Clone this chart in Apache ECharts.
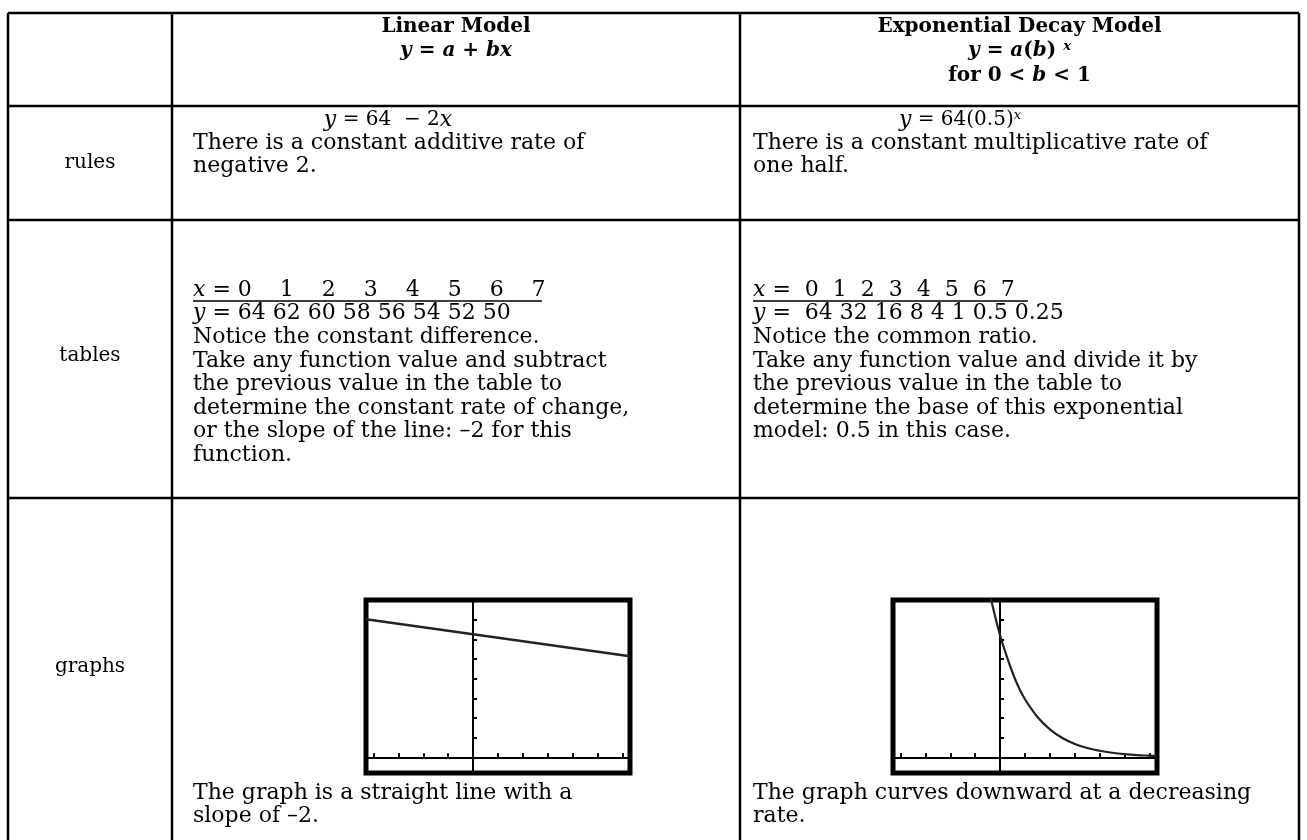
<!DOCTYPE html>
<html>
<head>
<meta charset="utf-8">
<script src="https://cdn.jsdelivr.net/npm/echarts@6/dist/echarts.min.js"></script>
<style>
html, body { margin: 0; padding: 0; background: #fff; }
#main { width: 1307px; height: 840px; }
</style>
</head>
<body>
<div id="main"></div>
<script>
// values in the tables (as printed)
var xValues = [0, 1, 2, 3, 4, 5, 6, 7];
var linearValues = [64, 62, 60, 58, 56, 54, 52, 50];
var expValues = [64, 32, 16, 8, 4, 1, 0.5, 0.25];

var linGraphX = [-4.3, 6.3];
var linGraphY = [70.2, 51.4];
var expGraphX = [-0.5, -0.3, 0, 0.25, 0.5, 0.75, 1, 1.5, 2, 2.5, 3, 3.5, 4, 4.5, 5, 5.5, 6, 6.3];
var expGraphY = [88, 77, 62, 52, 43, 35.5, 29.5, 20.5, 14.2, 9.8, 6.8, 4.7, 3.3, 2.3, 1.6, 1.1, 0.8, 0.6];

// tick marks on the screens
var xTicks = [-4, -3, -2, -1, 1, 2, 3, 4, 5, 6];
var yTicks = [10, 20, 30, 40, 50, 60, 70];

var chart = echarts.init(document.getElementById('main'));

var FONT = '"DejaVu Serif", "Liberation Serif", serif';
var SIZE = 22;
var rich = {
  i: { fontStyle: 'italic', fontFamily: FONT, fontSize: SIZE, fill: '#000' },
  bi: { fontStyle: 'italic', fontWeight: 'bold', fontFamily: FONT, fontSize: 20, fill: '#000' },
  b: { fontWeight: 'bold', fontFamily: FONT, fontSize: 20, fill: '#000' },
  sup: { fontStyle: 'italic', fontFamily: FONT, fontSize: 13, fill: '#000', verticalAlign: 'top' },
  bsup: { fontStyle: 'italic', fontWeight: 'bold', fontFamily: FONT, fontSize: 13, fill: '#000', verticalAlign: 'top' }
};

function txt(x, y, s, align, size) {
  return {
    type: 'text', x: x, y: y, z: 10,
    style: {
      text: s, fontFamily: FONT, fontSize: size || SIZE, fill: '#000',
      textAlign: align || 'left', textVerticalAlign: 'middle', rich: rich
    }
  };
}
function line(x1, y1, x2, y2, w) {
  return {
    type: 'line', z: 5,
    shape: { x1: x1, y1: y1, x2: x2, y2: y2 },
    style: { stroke: '#000', lineWidth: w || 2.5 }
  };
}

var L = 8, C1 = 172, C2 = 740, R = 1299;
var T = 13, H1 = 106, H2 = 220, H3 = 498, B = 840;
var lx = 193, ex = 753, LH = 23.6;

var g = [];
// grid lines of the table
[L, C1, C2, R].forEach(function (x) { g.push(line(x, T, x, B)); });
[T, H1, H2, H3].forEach(function (y) { g.push(line(L, y, R, y)); });

// header
g.push(txt((C1 + C2) / 2, 27, '{b|Linear Model}', 'center'));
g.push(txt((C1 + C2) / 2, 51, '{bi|y}{b| = }{bi|a}{b| + }{bi|bx}', 'center'));
g.push(txt((C2 + R) / 2, 27, '{b|Exponential Decay Model}', 'center'));
g.push(txt((C2 + R) / 2, 51, '{bi|y}{b| = }{bi|a}{b|(}{bi|b}{b|)} {bsup|x}', 'center'));
g.push(txt((C2 + R) / 2, 76, '{b|for 0 < }{bi|b}{b| < 1}', 'center'));

// row labels
g.push(txt((L + C1) / 2, 163, 'rules', 'center', 20));
g.push(txt((L + C1) / 2, 356, 'tables', 'center', 20));
g.push(txt((L + C1) / 2, 667, 'graphs', 'center', 20));

// rules row
g.push(txt(388, 120, '{i|y} = 64  \u2212 2{i|x}', 'center', 20));
g.push(txt(lx, 143, 'There is a constant additive rate of'));
g.push(txt(lx, 143 + LH, 'negative 2.'));
g.push(txt(960, 120, '{i|y} = 64(0.5){sup|x}', 'center', 20));
g.push(txt(ex, 143, 'There is a constant multiplicative rate of'));
g.push(txt(ex, 143 + LH, 'one half.'));

// tables row
var tY = 290;
g.push(txt(lx, tY, '{i|x} = ' + xValues.join('    ')));
g.push(line(lx, tY + 11, 542, tY + 11, 1.5));
g.push(txt(lx, tY + LH, '{i|y} = ' + linearValues.join(' ')));
var linNotes = [
  'Notice the constant difference.',
  'Take any function value and subtract',
  'the previous value in the table to',
  'determine the constant rate of change,',
  'or the slope of the line: \u20132 for this',
  'function.'
];
linNotes.forEach(function (s, k) { g.push(txt(lx, tY + LH * (k + 2), s)); });

g.push(txt(ex, tY, '{i|x} =  ' + xValues.join('  ')));
g.push(line(ex, tY + 11, 1028, tY + 11, 1.5));
g.push(txt(ex, tY + LH, '{i|y} =  ' + expValues.join(' ')));
var expNotes = [
  'Notice the common ratio.',
  'Take any function value and divide it by',
  'the previous value in the table to',
  'determine the base of this exponential',
  'model: 0.5 in this case.'
];
expNotes.forEach(function (s, k) { g.push(txt(ex, tY + LH * (k + 2), s)); });

// graphs row captions
g.push(txt(lx, 793, 'The graph is a straight line with a'));
g.push(txt(lx, 793 + LH, 'slope of \u20132.'));
g.push(txt(ex, 793, 'The graph curves downward at a decreasing'));
g.push(txt(ex, 793 + LH, 'rate.'));

function pairs(xs, ys) {
  return xs.map(function (x, k) { return [x, ys[k]]; });
}

function screenX(gi) {
  return {
    type: 'value', gridIndex: gi, min: -4.3, max: 6.3,
    axisLine: { show: true, onZero: true, lineStyle: { color: '#000', width: 2 } },
    axisTick: { show: true, inside: true, length: 4, customValues: xTicks, lineStyle: { color: '#000', width: 2 } },
    axisLabel: { show: false },
    splitLine: { show: false }
  };
}
function screenY(gi) {
  return {
    type: 'value', gridIndex: gi, min: -8, max: 80,
    axisLine: { show: true, onZero: true, lineStyle: { color: '#000', width: 2 } },
    axisTick: { show: true, inside: true, length: 4, customValues: yTicks, lineStyle: { color: '#000', width: 2 } },
    axisLabel: { show: false },
    splitLine: { show: false }
  };
}

var option = {
  backgroundColor: '#fff',
  animation: false,
  graphic: g,
  grid: [
    { left: 366, top: 600, width: 264, height: 173, show: true, borderColor: '#000', borderWidth: 5, backgroundColor: '#fff' },
    { left: 893, top: 600, width: 264, height: 173, show: true, borderColor: '#000', borderWidth: 5, backgroundColor: '#fff' }
  ],
  xAxis: [screenX(0), screenX(1)],
  yAxis: [screenY(0), screenY(1)],
  series: [
    {
      type: 'line', xAxisIndex: 0, yAxisIndex: 0,
      data: pairs(linGraphX, linGraphY),
      showSymbol: false, clip: true,
      lineStyle: { color: '#222', width: 2.5 }
    },
    {
      type: 'line', xAxisIndex: 1, yAxisIndex: 1,
      data: pairs(expGraphX, expGraphY),
      showSymbol: false, clip: true, smooth: 0.4,
      lineStyle: { color: '#222', width: 2.2 }
    }
  ]
};

chart.setOption(option);
</script>
</body>
</html>
